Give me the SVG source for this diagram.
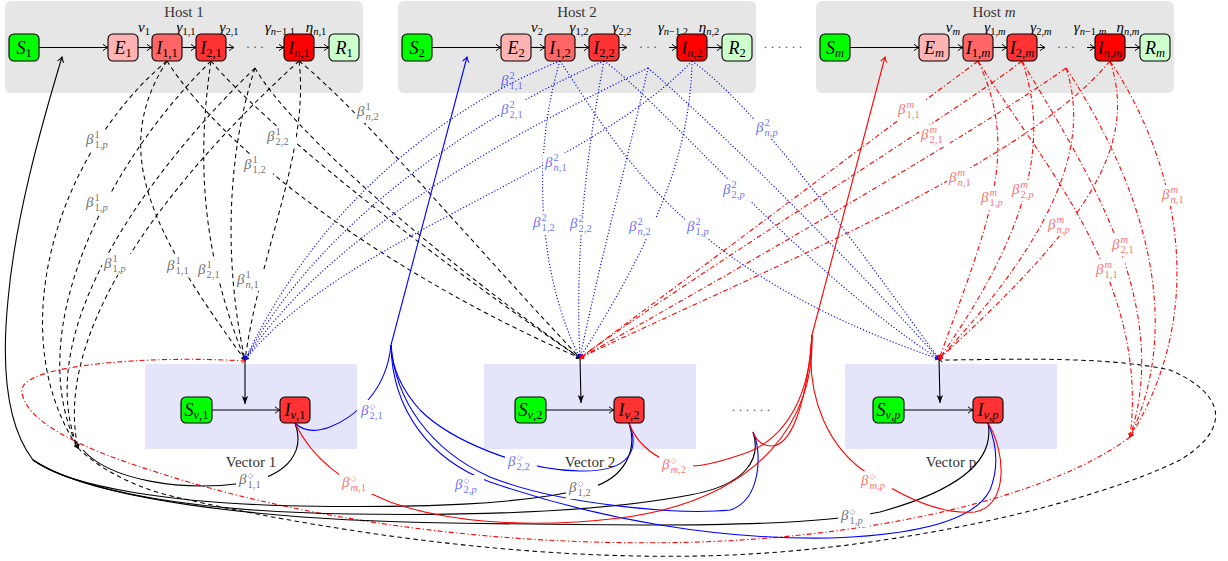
<svg xmlns="http://www.w3.org/2000/svg" width="1228" height="561" viewBox="0 0 1228 561">
<style>
.hb{fill:#e6e6e6}
.vb{fill:#e4e4fa}
.nd{stroke:#000;stroke-width:1.1}
.gS{fill:#00ff00}.gE{fill:#ffb3b3}.g1{fill:#ff6666}.g2{fill:#ff3333}.gn{fill:#ff0000}.gR{fill:#ccffcc}
text{font-family:"Liberation Serif","DejaVu Serif",serif;fill:#000}
.nl{font-size:18px;font-style:italic;text-anchor:middle}
.sb{font-size:12.5px;font-style:normal}
.tt{font-size:15px;text-anchor:middle;fill:#333}
.rt{font-size:15px;font-style:italic;text-anchor:middle}
.rsub{font-size:10.5px;font-style:normal}
.it,.sb.it,.rsub.it{font-style:italic}
.dots{font-size:12px;text-anchor:middle;fill:#444}
.c{fill:none}
.kd{stroke:#000;stroke-width:1.05;stroke-dasharray:4.5 3.5}
.bd{stroke:#0000ff;stroke-width:1.2;stroke-dasharray:1.1 2.1}
.rd{stroke:#ff0000;stroke-width:1.1;stroke-dasharray:5 2.5 1.2 2.5}
.ks{stroke:#000;stroke-width:1.1}
.bs{stroke:#0000ff;stroke-width:1.1}
.rs{stroke:#ff0000;stroke-width:1.1}
.ar{stroke:#000;stroke-width:1.1;fill:none}
.lb rect{fill:#fff}
.lb text{font-size:15px;font-style:italic}
.lb .s{font-size:10.5px;font-style:normal}
.lb .s.i{font-style:italic}
.lb .d{font-family:"DejaVu Sans",sans-serif;font-size:7.5px;font-style:normal}
.k text{fill:#000;fill-opacity:.6}
.b text{fill:#0000ff;fill-opacity:.6}
.r text{fill:#ff0000;fill-opacity:.6}
</style>
<defs>
<marker id="ak" viewBox="-6 -4 7 8" refX="0" refY="0" markerWidth="7" markerHeight="8" markerUnits="userSpaceOnUse" orient="auto"><path d="M-5,-3.2 Q-2,-0.7 0,0 Q-2,0.7 -5,3.2" fill="none" stroke="#000" stroke-width="1"/></marker>
<marker id="ab" viewBox="-6 -4 7 8" refX="0" refY="0" markerWidth="7" markerHeight="8" markerUnits="userSpaceOnUse" orient="auto"><path d="M-5,-3.2 Q-2,-0.7 0,0 Q-2,0.7 -5,3.2" fill="none" stroke="#0000ff" stroke-width="1"/></marker>
<marker id="ar" viewBox="-6 -4 7 8" refX="0" refY="0" markerWidth="7" markerHeight="8" markerUnits="userSpaceOnUse" orient="auto"><path d="M-5,-3.2 Q-2,-0.7 0,0 Q-2,0.7 -5,3.2" fill="none" stroke="#ff0000" stroke-width="1"/></marker>
<marker id="sk" viewBox="-5 -3 6 6" refX="0" refY="0" markerWidth="6" markerHeight="6" markerUnits="userSpaceOnUse" orient="auto"><path d="M-3.5,-2.2 Q-1.4,-0.4 0,0 Q-1.4,0.4 -3.5,2.2" fill="none" stroke="#000" stroke-width="0.9"/></marker>
<marker id="sb" viewBox="-5 -3 6 6" refX="0" refY="0" markerWidth="6" markerHeight="6" markerUnits="userSpaceOnUse" orient="auto"><path d="M-3.5,-2.2 Q-1.4,-0.4 0,0 Q-1.4,0.4 -3.5,2.2" fill="none" stroke="#0000ff" stroke-width="0.9"/></marker>
<marker id="sr" viewBox="-5 -3 6 6" refX="0" refY="0" markerWidth="6" markerHeight="6" markerUnits="userSpaceOnUse" orient="auto"><path d="M-3.5,-2.2 Q-1.4,-0.4 0,0 Q-1.4,0.4 -3.5,2.2" fill="none" stroke="#ff0000" stroke-width="0.9"/></marker>
<marker id="st" viewBox="-9 -4 10 8" refX="0" refY="0" markerWidth="10" markerHeight="8" markerUnits="userSpaceOnUse" orient="auto"><path d="M0,0 L-8,-3.2 L-6,0 L-8,3.2 Z" fill="#000"/></marker>
</defs>

<!-- containers -->
<g id="host1"><rect class="hb" x="5" y="1" width="358" height="92" rx="6"/><text class="tt" x="184" y="17">Host 1</text></g>
<g id="host2"><rect class="hb" x="398" y="1" width="358" height="92" rx="6"/><text class="tt" x="577" y="17">Host 2</text></g>
<g id="hostm"><rect class="hb" x="816" y="1" width="358" height="92" rx="6"/><text class="tt" x="994" y="17">Host <tspan font-style="italic">m</tspan></text></g>
<g id="vector1"><rect class="vb" x="145" y="364" width="212" height="85"/><text class="tt" x="251" y="467">Vector 1</text></g>
<g id="vector2"><rect class="vb" x="484" y="364" width="212" height="85"/><text class="tt" x="590" y="467">Vector 2</text></g>
<g id="vectorp"><rect class="vb" x="845" y="364" width="212" height="85"/><text class="tt" x="951" y="467">Vector p</text></g>

<g id="connectors" class="c">
<g class="ar" marker-end="url(#ak)">
<line x1="39" y1="47.5" x2="108" y2="47.5"/><line x1="138" y1="47.5" x2="152" y2="47.5"/><line x1="182" y1="47.5" x2="196" y2="47.5"/><line x1="226" y1="47.5" x2="234" y2="47.5"/><line x1="276" y1="47.5" x2="284" y2="47.5"/><line x1="314" y1="47.5" x2="329" y2="47.5"/>
<line x1="432" y1="47.5" x2="501" y2="47.5"/><line x1="531" y1="47.5" x2="545" y2="47.5"/><line x1="575" y1="47.5" x2="589" y2="47.5"/><line x1="619" y1="47.5" x2="627" y2="47.5"/><line x1="669" y1="47.5" x2="677" y2="47.5"/><line x1="707" y1="47.5" x2="722" y2="47.5"/>
<line x1="850" y1="47.5" x2="919" y2="47.5"/><line x1="949" y1="47.5" x2="963" y2="47.5"/><line x1="993" y1="47.5" x2="1007" y2="47.5"/><line x1="1037" y1="47.5" x2="1045" y2="47.5"/><line x1="1087" y1="47.5" x2="1095" y2="47.5"/><line x1="1125" y1="47.5" x2="1140" y2="47.5"/>
<line x1="212" y1="410" x2="280" y2="410"/><line x1="546" y1="410" x2="614" y2="410"/><line x1="904" y1="410" x2="973" y2="410"/>
</g>
<g class="ar" marker-end="url(#st)">
<line x1="245" y1="360" x2="245" y2="404"/><line x1="580" y1="358" x2="581" y2="403"/><line x1="939" y1="359" x2="940" y2="403"/>
</g>

<g class="kd" marker-end="url(#sk)">
<path d="M167,61 C110,150 150,230 245,360"/>
<path d="M211,61 C195,170 205,260 245,360"/>
<path d="M255,68 C225,160 225,270 245,360"/>
<path d="M299,61 C310,150 260,250 245,360"/>
<path d="M167,61 C230,160 400,280 580,358"/>
<path d="M211,61 C260,120 420,250 580,358"/>
<path d="M255,68 C290,130 440,260 580,358"/>
<path d="M299,61 C360,110 460,230 580,358"/>
<path d="M167,61 C60,150 0,330 78,448"/>
<path d="M211,61 C110,160 20,330 78,448"/>
<path d="M255,68 C150,170 30,330 78,448"/>
<path d="M299,61 C190,160 50,320 78,448"/>
<path d="M78,448 C100,470 140,490 180,498 C300,525 500,560 700,556 C900,552 1100,500 1180,460 C1230,430 1228,395 1170,370 C1100,355 1000,360 939,360"/>
</g>

<g class="bd" marker-end="url(#sb)">
<path d="M560,61 C450,105 320,200 245,360"/>
<path d="M604,61 C480,115 320,220 245,360"/>
<path d="M648,68 C520,130 330,230 245,360"/>
<path d="M692,61 C590,170 340,240 245,360"/>
<path d="M560,61 C530,160 540,280 580,358"/>
<path d="M604,61 C585,160 575,260 580,358"/>
<path d="M648,68 C630,150 600,260 580,358"/>
<path d="M692,61 C690,170 640,260 580,358"/>
<path d="M560,61 C620,150 680,270 939,359"/>
<path d="M604,61 C660,100 800,270 939,359"/>
<path d="M648,68 C720,130 850,260 939,359"/>
<path d="M692,61 C760,110 860,250 939,359"/>
</g>

<g class="rd" marker-end="url(#sr)">
<path d="M978,61 C845,160 713,259 580,358"/>
<path d="M1022,61 C960,110 700,270 580,358"/>
<path d="M1066,68 C980,130 720,280 580,358"/>
<path d="M1110,61 C1020,170 740,280 580,358"/>
<path d="M978,61 C1020,150 990,220 939,359"/>
<path d="M1022,61 C1050,140 1030,230 939,359"/>
<path d="M1066,68 C1090,140 1060,230 939,359"/>
<path d="M1110,61 C1140,150 1080,230 939,359"/>
<path d="M978,61 C1040,160 1150,280 1130,437"/>
<path d="M1022,61 C1080,160 1175,300 1130,437"/>
<path d="M1066,68 C1120,150 1195,300 1130,437"/>
<path d="M1110,61 C1170,150 1215,300 1130,437"/>
<path d="M1130,437 C1060,490 900,535 700,542 C500,548 300,520 150,470 C80,448 22,420 22,390 C22,365 150,355 245,361"/>
</g>

<g class="ks">
<path d="M33,460 C10,430 0,380 8,300 C15,220 40,130 62,57" marker-end="url(#ak)"/>
<path d="M295,423 C305,450 290,475 245,483 C180,492 110,480 83,450"/>
<path d="M629,423 C638,450 625,478 590,488 C520,505 420,508 300,506 C180,504 70,488 33,460"/>
<path d="M753,432 C762,460 745,485 690,495 C600,512 480,516 350,514 C200,512 80,492 33,460"/>
<path d="M988,423 C995,460 960,490 880,512 C800,528 650,526 450,523 C250,520 90,498 33,460"/>
</g>
<g class="bs">
<path d="M391,345 L467,57" marker-end="url(#ab)"/>
<path d="M295,423 C312,440 345,425 368,400 C383,383 389,365 391,345"/>
<path d="M629,423 C640,450 630,472 580,471 C520,470 450,440 420,410 C402,390 392,370 391,345"/>
<path d="M753,432 C762,450 762,500 730,510 C680,515 560,505 490,477 C430,450 395,400 391,345"/>
<path d="M988,423 C995,440 1000,465 990,490 C975,520 920,535 830,538 C720,540 600,520 490,482 C430,460 392,410 391,345"/>
</g>
<g class="rs">
<path d="M812,335 L885,57" marker-end="url(#ar)"/>
<path d="M295,423 C310,455 340,482 390,502 C440,520 520,530 620,518 C760,500 815,420 812,335"/>
<path d="M629,423 C635,440 650,455 670,462 C690,470 710,465 740,455 C790,440 810,390 812,335"/>
<path d="M753,432 C756,440 762,446 772,446 C795,445 808,390 812,335"/>
<path d="M988,423 C1005,450 1010,505 975,512 C940,515 900,495 870,475 C830,450 805,400 812,335"/>
</g>
</g>

<g id="labels">
<g class="lb k" transform="translate(370,112)"><rect x="-15" y="-10" width="31" height="21"/><text x="-13" y="3.5">β</text><text class="s" x="-4.5" y="-2">1</text><text class="s" x="-4.5" y="8"><tspan font-style="italic">n</tspan>,2</text></g>
<g class="lb k" transform="translate(99,140)"><rect x="-15" y="-10" width="31" height="21"/><text x="-13" y="3.5">β</text><text class="s" x="-4.5" y="-2">1</text><text class="s" x="-4.5" y="8">1,<tspan font-style="italic">p</tspan></text></g>
<g class="lb k" transform="translate(280,137)"><rect x="-15" y="-10" width="31" height="21"/><text x="-13" y="3.5">β</text><text class="s" x="-4.5" y="-2">1</text><text class="s" x="-4.5" y="8">2,2</text></g>
<g class="lb k" transform="translate(257,165)"><rect x="-15" y="-10" width="31" height="21"/><text x="-13" y="3.5">β</text><text class="s" x="-4.5" y="-2">1</text><text class="s" x="-4.5" y="8">1,2</text></g>
<g class="lb k" transform="translate(99,203)"><rect x="-15" y="-10" width="31" height="21"/><text x="-13" y="3.5">β</text><text class="s" x="-4.5" y="-2">1</text><text class="s" x="-4.5" y="8">1,<tspan font-style="italic">p</tspan></text></g>
<g class="lb k" transform="translate(117,264)"><rect x="-15" y="-10" width="31" height="21"/><text x="-13" y="3.5">β</text><text class="s" x="-4.5" y="-2">1</text><text class="s" x="-4.5" y="8">1,<tspan font-style="italic">p</tspan></text></g>
<g class="lb k" transform="translate(180,266)"><rect x="-15" y="-10" width="31" height="21"/><text x="-13" y="3.5">β</text><text class="s" x="-4.5" y="-2">1</text><text class="s" x="-4.5" y="8">1,1</text></g>
<g class="lb k" transform="translate(211,270)"><rect x="-15" y="-10" width="31" height="21"/><text x="-13" y="3.5">β</text><text class="s" x="-4.5" y="-2">1</text><text class="s" x="-4.5" y="8">2,1</text></g>
<g class="lb k" transform="translate(250,280)"><rect x="-15" y="-10" width="31" height="21"/><text x="-13" y="3.5">β</text><text class="s" x="-4.5" y="-2">1</text><text class="s" x="-4.5" y="8"><tspan font-style="italic">n</tspan>,1</text></g>

<g class="lb b" transform="translate(514,81)"><text x="-13" y="3.5">β</text><text class="s" x="-4.5" y="-2">2</text><text class="s" x="-4.5" y="8">1,1</text></g>
<g class="lb b" transform="translate(514,110)"><rect x="-15" y="-10" width="31" height="21"/><text x="-13" y="3.5">β</text><text class="s" x="-4.5" y="-2">2</text><text class="s" x="-4.5" y="8">2,1</text></g>
<g class="lb b" transform="translate(558,163)"><rect x="-15" y="-10" width="31" height="21"/><text x="-13" y="3.5">β</text><text class="s" x="-4.5" y="-2">2</text><text class="s" x="-4.5" y="8"><tspan font-style="italic">n</tspan>,1</text></g>
<g class="lb b" transform="translate(546,223)"><rect x="-15" y="-10" width="31" height="21"/><text x="-13" y="3.5">β</text><text class="s" x="-4.5" y="-2">2</text><text class="s" x="-4.5" y="8">1,2</text></g>
<g class="lb b" transform="translate(583,224)"><rect x="-15" y="-10" width="31" height="21"/><text x="-13" y="3.5">β</text><text class="s" x="-4.5" y="-2">2</text><text class="s" x="-4.5" y="8">2,2</text></g>
<g class="lb b" transform="translate(642,227)"><rect x="-15" y="-10" width="31" height="21"/><text x="-13" y="3.5">β</text><text class="s" x="-4.5" y="-2">2</text><text class="s" x="-4.5" y="8"><tspan font-style="italic">n</tspan>,2</text></g>
<g class="lb b" transform="translate(700,227)"><rect x="-15" y="-10" width="31" height="21"/><text x="-13" y="3.5">β</text><text class="s" x="-4.5" y="-2">2</text><text class="s" x="-4.5" y="8">1,<tspan font-style="italic">p</tspan></text></g>
<g class="lb b" transform="translate(736,190)"><rect x="-15" y="-10" width="31" height="21"/><text x="-13" y="3.5">β</text><text class="s" x="-4.5" y="-2">2</text><text class="s" x="-4.5" y="8">2,<tspan font-style="italic">p</tspan></text></g>
<g class="lb b" transform="translate(769,128)"><rect x="-15" y="-10" width="31" height="21"/><text x="-13" y="3.5">β</text><text class="s" x="-4.5" y="-2">2</text><text class="s" x="-4.5" y="8"><tspan font-style="italic">n</tspan>,<tspan font-style="italic">p</tspan></text></g>

<g class="lb r" transform="translate(911,110)"><rect x="-15" y="-10" width="31" height="21"/><text x="-13" y="3.5">β</text><text class="s i" x="-4.5" y="-2">m</text><text class="s" x="-4.5" y="8">1,1</text></g>
<g class="lb r" transform="translate(934,135)"><rect x="-15" y="-10" width="31" height="21"/><text x="-13" y="3.5">β</text><text class="s i" x="-4.5" y="-2">m</text><text class="s" x="-4.5" y="8">2,1</text></g>
<g class="lb r" transform="translate(962,178)"><rect x="-15" y="-10" width="31" height="21"/><text x="-13" y="3.5">β</text><text class="s i" x="-4.5" y="-2">m</text><text class="s" x="-4.5" y="8"><tspan font-style="italic">n</tspan>,1</text></g>
<g class="lb r" transform="translate(994,198)"><rect x="-15" y="-10" width="31" height="21"/><text x="-13" y="3.5">β</text><text class="s i" x="-4.5" y="-2">m</text><text class="s" x="-4.5" y="8">1,<tspan font-style="italic">p</tspan></text></g>
<g class="lb r" transform="translate(1025,190)"><rect x="-15" y="-10" width="31" height="21"/><text x="-13" y="3.5">β</text><text class="s i" x="-4.5" y="-2">m</text><text class="s" x="-4.5" y="8">2,<tspan font-style="italic">p</tspan></text></g>
<g class="lb r" transform="translate(1061,225)"><rect x="-15" y="-10" width="31" height="21"/><text x="-13" y="3.5">β</text><text class="s i" x="-4.5" y="-2">m</text><text class="s" x="-4.5" y="8"><tspan font-style="italic">n</tspan>,<tspan font-style="italic">p</tspan></text></g>
<g class="lb r" transform="translate(1125,245)"><rect x="-15" y="-10" width="31" height="21"/><text x="-13" y="3.5">β</text><text class="s i" x="-4.5" y="-2">m</text><text class="s" x="-4.5" y="8">2,1</text></g>
<g class="lb r" transform="translate(1109,270)"><rect x="-15" y="-10" width="31" height="21"/><text x="-13" y="3.5">β</text><text class="s i" x="-4.5" y="-2">m</text><text class="s" x="-4.5" y="8">1,1</text></g>
<g class="lb r" transform="translate(1175,195)"><rect x="-15" y="-10" width="31" height="21"/><text x="-13" y="3.5">β</text><text class="s i" x="-4.5" y="-2">m</text><text class="s" x="-4.5" y="8"><tspan font-style="italic">n</tspan>,1</text></g>

<g class="lb b" transform="translate(374,411)"><rect x="-17" y="-11" width="34" height="22"/><text x="-13" y="3.5">β</text><text class="d" x="-4.5" y="-2">◇</text><text class="s" x="-4.5" y="8">2,1</text></g>
<g class="lb k" transform="translate(252,480)"><rect x="-16" y="-10" width="32" height="21"/><text x="-13" y="3.5">β</text><text class="d" x="-4.5" y="-2">◇</text><text class="s" x="-4.5" y="8">1,1</text></g>
<g class="lb r" transform="translate(355,483)"><rect x="-16" y="-10" width="34" height="21"/><text x="-13" y="3.5">β</text><text class="d" x="-4.5" y="-2">◇</text><text class="s" x="-4.5" y="8"><tspan font-style="italic">m</tspan>,1</text></g>
<g class="lb b" transform="translate(521,462)"><rect x="-16" y="-10" width="32" height="21"/><text x="-13" y="3.5">β</text><text class="d" x="-4.5" y="-2">◇</text><text class="s" x="-4.5" y="8">2,2</text></g>
<g class="lb b" transform="translate(468,485)"><rect x="-16" y="-10" width="32" height="21"/><text x="-13" y="3.5">β</text><text class="d" x="-4.5" y="-2">◇</text><text class="s" x="-4.5" y="8">2,<tspan font-style="italic">p</tspan></text></g>
<g class="lb k" transform="translate(582,488)"><rect x="-16" y="-10" width="32" height="21"/><text x="-13" y="3.5">β</text><text class="d" x="-4.5" y="-2">◇</text><text class="s" x="-4.5" y="8">1,2</text></g>
<g class="lb r" transform="translate(675,465)"><rect x="-16" y="-10" width="34" height="21"/><text x="-13" y="3.5">β</text><text class="d" x="-4.5" y="-2">◇</text><text class="s" x="-4.5" y="8"><tspan font-style="italic">m</tspan>,2</text></g>
<g class="lb r" transform="translate(874,481)"><rect x="-16" y="-10" width="34" height="21"/><text x="-13" y="3.5">β</text><text class="d" x="-4.5" y="-2">◇</text><text class="s" x="-4.5" y="8"><tspan font-style="italic">m</tspan>,<tspan font-style="italic">p</tspan></text></g>
<g class="lb k" transform="translate(854,516)"><rect x="-16" y="-10" width="32" height="21"/><text x="-13" y="3.5">β</text><text class="d" x="-4.5" y="-2">◇</text><text class="s" x="-4.5" y="8">1,<tspan font-style="italic">p</tspan></text></g>
</g>

<g id="rates">
<text class="rt" x="144" y="32">ν<tspan class="rsub" dy="3">1</tspan></text>
<text class="rt" x="186" y="32">γ<tspan class="rsub" dy="3">1,1</tspan></text>
<text class="rt" x="229" y="32">γ<tspan class="rsub" dy="3">2,1</tspan></text>
<text class="rt" x="280" y="32">γ<tspan class="rsub" dy="3"><tspan class="it">n</tspan>−1,1</tspan></text>
<text class="rt" x="316" y="32">η<tspan class="rsub" dy="3"><tspan class="it">n</tspan>,1</tspan></text>
<text class="rt" x="537" y="32">ν<tspan class="rsub" dy="3">2</tspan></text>
<text class="rt" x="579" y="32">γ<tspan class="rsub" dy="3">1,2</tspan></text>
<text class="rt" x="622" y="32">γ<tspan class="rsub" dy="3">2,2</tspan></text>
<text class="rt" x="673" y="32">γ<tspan class="rsub" dy="3"><tspan class="it">n</tspan>−1,2</tspan></text>
<text class="rt" x="709" y="32">η<tspan class="rsub" dy="3"><tspan class="it">n</tspan>,2</tspan></text>
<text class="rt" x="953" y="32">ν<tspan class="rsub it" dy="3">m</tspan></text>
<text class="rt" x="995" y="32">γ<tspan class="rsub" dy="3">1,<tspan class="it">m</tspan></tspan></text>
<text class="rt" x="1041" y="32">γ<tspan class="rsub" dy="3">2,<tspan class="it">m</tspan></tspan></text>
<text class="rt" x="1090" y="32">γ<tspan class="rsub" dy="3"><tspan class="it">n</tspan>−1,<tspan class="it">m</tspan></tspan></text>
<text class="rt" x="1128" y="32">η<tspan class="rsub" dy="3"><tspan class="it">n</tspan>,<tspan class="it">m</tspan></tspan></text>
<text class="dots" x="255" y="51">· · ·</text>
<text class="dots" x="648" y="51">· · ·</text>
<text class="dots" x="1066" y="51">· · ·</text>
<text class="dots" x="783" y="51">· · · · · ·</text>
<text class="dots" x="751" y="414">· · · · · ·</text>
</g>

<g id="S1"><rect class="nd gS" x="9" y="34" width="30" height="27" rx="5"/><text class="nl" x="24" y="53.5">S<tspan class="sb" dy="3.5">1</tspan></text></g>
<g id="E1"><rect class="nd gE" x="108" y="34" width="30" height="27" rx="5"/><text class="nl" x="123" y="53.5">E<tspan class="sb" dy="3.5">1</tspan></text></g>
<g id="I11"><rect class="nd g1" x="152" y="34" width="30" height="27" rx="5"/><text class="nl" x="167" y="53.5">I<tspan class="sb" dy="3.5">1,1</tspan></text></g>
<g id="I21"><rect class="nd g2" x="196" y="34" width="30" height="27" rx="5"/><text class="nl" x="211" y="53.5">I<tspan class="sb" dy="3.5">2,1</tspan></text></g>
<g id="In1"><rect class="nd gn" x="284" y="34" width="30" height="27" rx="5"/><text class="nl" x="299" y="53.5">I<tspan class="sb" dy="3.5"><tspan class="it">n</tspan>,1</tspan></text></g>
<g id="R1"><rect class="nd gR" x="329" y="34" width="30" height="27" rx="5"/><text class="nl" x="344" y="53.5">R<tspan class="sb" dy="3.5">1</tspan></text></g>
<g id="S2"><rect class="nd gS" x="402" y="34" width="30" height="27" rx="5"/><text class="nl" x="417" y="53.5">S<tspan class="sb" dy="3.5">2</tspan></text></g>
<g id="E2"><rect class="nd gE" x="501" y="34" width="30" height="27" rx="5"/><text class="nl" x="516" y="53.5">E<tspan class="sb" dy="3.5">2</tspan></text></g>
<g id="I12"><rect class="nd g1" x="545" y="34" width="30" height="27" rx="5"/><text class="nl" x="560" y="53.5">I<tspan class="sb" dy="3.5">1,2</tspan></text></g>
<g id="I22"><rect class="nd g2" x="589" y="34" width="30" height="27" rx="5"/><text class="nl" x="604" y="53.5">I<tspan class="sb" dy="3.5">2,2</tspan></text></g>
<g id="In2"><rect class="nd gn" x="677" y="34" width="30" height="27" rx="5"/><text class="nl" x="692" y="53.5">I<tspan class="sb" dy="3.5"><tspan class="it">n</tspan>,2</tspan></text></g>
<g id="R2"><rect class="nd gR" x="722" y="34" width="30" height="27" rx="5"/><text class="nl" x="737" y="53.5">R<tspan class="sb" dy="3.5">2</tspan></text></g>
<g id="Sm"><rect class="nd gS" x="820" y="34" width="30" height="27" rx="5"/><text class="nl" x="835" y="53.5">S<tspan class="sb it" dy="3.5">m</tspan></text></g>
<g id="Em"><rect class="nd gE" x="919" y="34" width="30" height="27" rx="5"/><text class="nl" x="934" y="53.5">E<tspan class="sb it" dy="3.5">m</tspan></text></g>
<g id="I1m"><rect class="nd g1" x="963" y="34" width="30" height="27" rx="5"/><text class="nl" x="978" y="53.5">I<tspan class="sb" dy="3.5">1,<tspan class="it">m</tspan></tspan></text></g>
<g id="I2m"><rect class="nd g2" x="1007" y="34" width="30" height="27" rx="5"/><text class="nl" x="1022" y="53.5">I<tspan class="sb" dy="3.5">2,<tspan class="it">m</tspan></tspan></text></g>
<g id="Inm"><rect class="nd gn" x="1095" y="34" width="30" height="27" rx="5"/><text class="nl" x="1110" y="53.5">I<tspan class="sb" dy="3.5"><tspan class="it">n</tspan>,<tspan class="it">m</tspan></tspan></text></g>
<g id="Rm"><rect class="nd gR" x="1140" y="34" width="30" height="27" rx="5"/><text class="nl" x="1155" y="53.5">R<tspan class="sb it" dy="3.5">m</tspan></text></g>
<g id="Sv1"><rect class="nd gS" x="181" y="397" width="31" height="26" rx="5"/><text class="nl" x="196.5" y="415.5">S<tspan class="sb" dy="3.5"><tspan class="it">v</tspan>,1</tspan></text></g>
<g id="Iv1"><rect class="nd g2" x="280" y="397" width="30" height="26" rx="5"/><text class="nl" x="295" y="415.5">I<tspan class="sb" dy="3.5"><tspan class="it">v</tspan>,1</tspan></text></g>
<g id="Sv2"><rect class="nd gS" x="515" y="397" width="31" height="26" rx="5"/><text class="nl" x="530.5" y="415.5">S<tspan class="sb" dy="3.5"><tspan class="it">v</tspan>,2</tspan></text></g>
<g id="Iv2"><rect class="nd g2" x="614" y="397" width="30" height="26" rx="5"/><text class="nl" x="629" y="415.5">I<tspan class="sb" dy="3.5"><tspan class="it">v</tspan>,2</tspan></text></g>
<g id="Svp"><rect class="nd gS" x="873" y="397" width="31" height="26" rx="5"/><text class="nl" x="888.5" y="415.5">S<tspan class="sb" dy="3.5"><tspan class="it">v</tspan>,<tspan class="it">p</tspan></tspan></text></g>
<g id="Ivp"><rect class="nd g2" x="973" y="397" width="30" height="26" rx="5"/><text class="nl" x="988" y="415.5">I<tspan class="sb" dy="3.5"><tspan class="it">v</tspan>,<tspan class="it">p</tspan></tspan></text></g>
</svg>
